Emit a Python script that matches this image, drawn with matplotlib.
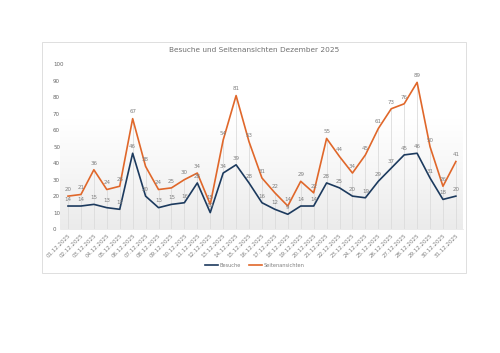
import matplotlib
matplotlib.use("Agg")
import matplotlib.pyplot as plt
from matplotlib.patches import Rectangle
from matplotlib.colors import LinearSegmentedColormap
from matplotlib.lines import Line2D
import numpy as np

days = list(range(1, 32))
date_labels = [f"{d:02d}.12.2025" for d in days]
besuche = [14, 14, 15, 13, 12, 46, 20, 13, 15, 16, 28, 10, 34, 39, 28, 16,
           12, 9, 14, 14, 28, 25, 20, 19, 29, 37, 45, 46, 31, 18, 20]
seitenansichten = [20, 21, 36, 24, 26, 67, 38, 24, 25, 30, 34, 15, 54, 81, 53, 31,
                   22, 14, 29, 22, 55, 44, 34, 45, 61, 73, 76, 89, 50, 26, 41]

BLUE = "#1c3a5e"
ORANGE = "#e0672a"
GRAY_TXT = "#7f7f7f"

fig = plt.figure(figsize=(5, 3.53), dpi=100)
fig.patch.set_facecolor("white")

# chart frame
fig.patches.append(Rectangle((0.084, 0.227), 0.848, 0.654, transform=fig.transFigure,
                             facecolor="none", edgecolor="#d9d9d9", linewidth=0.6, zorder=-1))

ax = fig.add_axes([0.12, 0.351, 0.806, 0.467])
ax.set_facecolor("none")
ax.set_xlim(0.38, 31.55)
ax.set_ylim(0, 100)

# gradient background of the plot area
cmap = LinearSegmentedColormap.from_list("bg", ["#ebebeb", "#f6f6f6", "#ffffff", "#ffffff"])
grad = np.linspace(0, 1, 256).reshape(-1, 1)
ax.imshow(grad, aspect="auto", cmap=cmap, origin="lower",
          extent=[0.38, 31.55, 0, 100], zorder=0)

# drop lines
ax.vlines(days, 0, [max(a, b) for a, b in zip(besuche, seitenansichten)],
          colors="#dcdcdc", linewidth=0.6, zorder=1)

ax.plot(days, besuche, color=BLUE, linewidth=1.2, zorder=3)
ax.plot(days, seitenansichten, color=ORANGE, linewidth=1.2, zorder=3)

for d, v in zip(days, besuche):
    ax.annotate(str(v), (d, v), xytext=(0, 3), textcoords="offset points",
                ha="center", va="bottom", fontsize=4, color=GRAY_TXT, zorder=4)
for d, v in zip(days, seitenansichten):
    ax.annotate(str(v), (d, v), xytext=(0, 3), textcoords="offset points",
                ha="center", va="bottom", fontsize=4, color=GRAY_TXT, zorder=4)

ax.set_yticks(range(0, 101, 10))
ax.set_xticks(days)
ax.set_xticklabels(date_labels, rotation=45, ha="right", rotation_mode="anchor")
ax.tick_params(axis="both", labelsize=4, colors=GRAY_TXT, length=0)
ax.tick_params(axis="x", pad=3)
ax.tick_params(axis="y", pad=5, labelcolor="#666666")
for lbl in ax.get_yticklabels():
    lbl.set_horizontalalignment("left")
for s in ["top", "right", "left"]:
    ax.spines[s].set_visible(False)
ax.spines["bottom"].set_color("#e3e3e3")
ax.spines["bottom"].set_linewidth(0.5)

fig.text(0.508, 0.857, "Besuche und Seitenansichten Dezember 2025", ha="center",
         va="center", fontsize=5.3, color="#707070")

handles = [Line2D([], [], color=BLUE, linewidth=1.2),
           Line2D([], [], color=ORANGE, linewidth=1.2)]
fig.legend(handles, ["Besuche", "Seitenansichten"], loc="center",
           bbox_to_anchor=(0.51, 0.249), ncol=2, frameon=False, fontsize=3.6,
           labelcolor=GRAY_TXT, handlelength=2.6, columnspacing=1.6, handletextpad=0.3)

fig.savefig("out.png", dpi=100)
